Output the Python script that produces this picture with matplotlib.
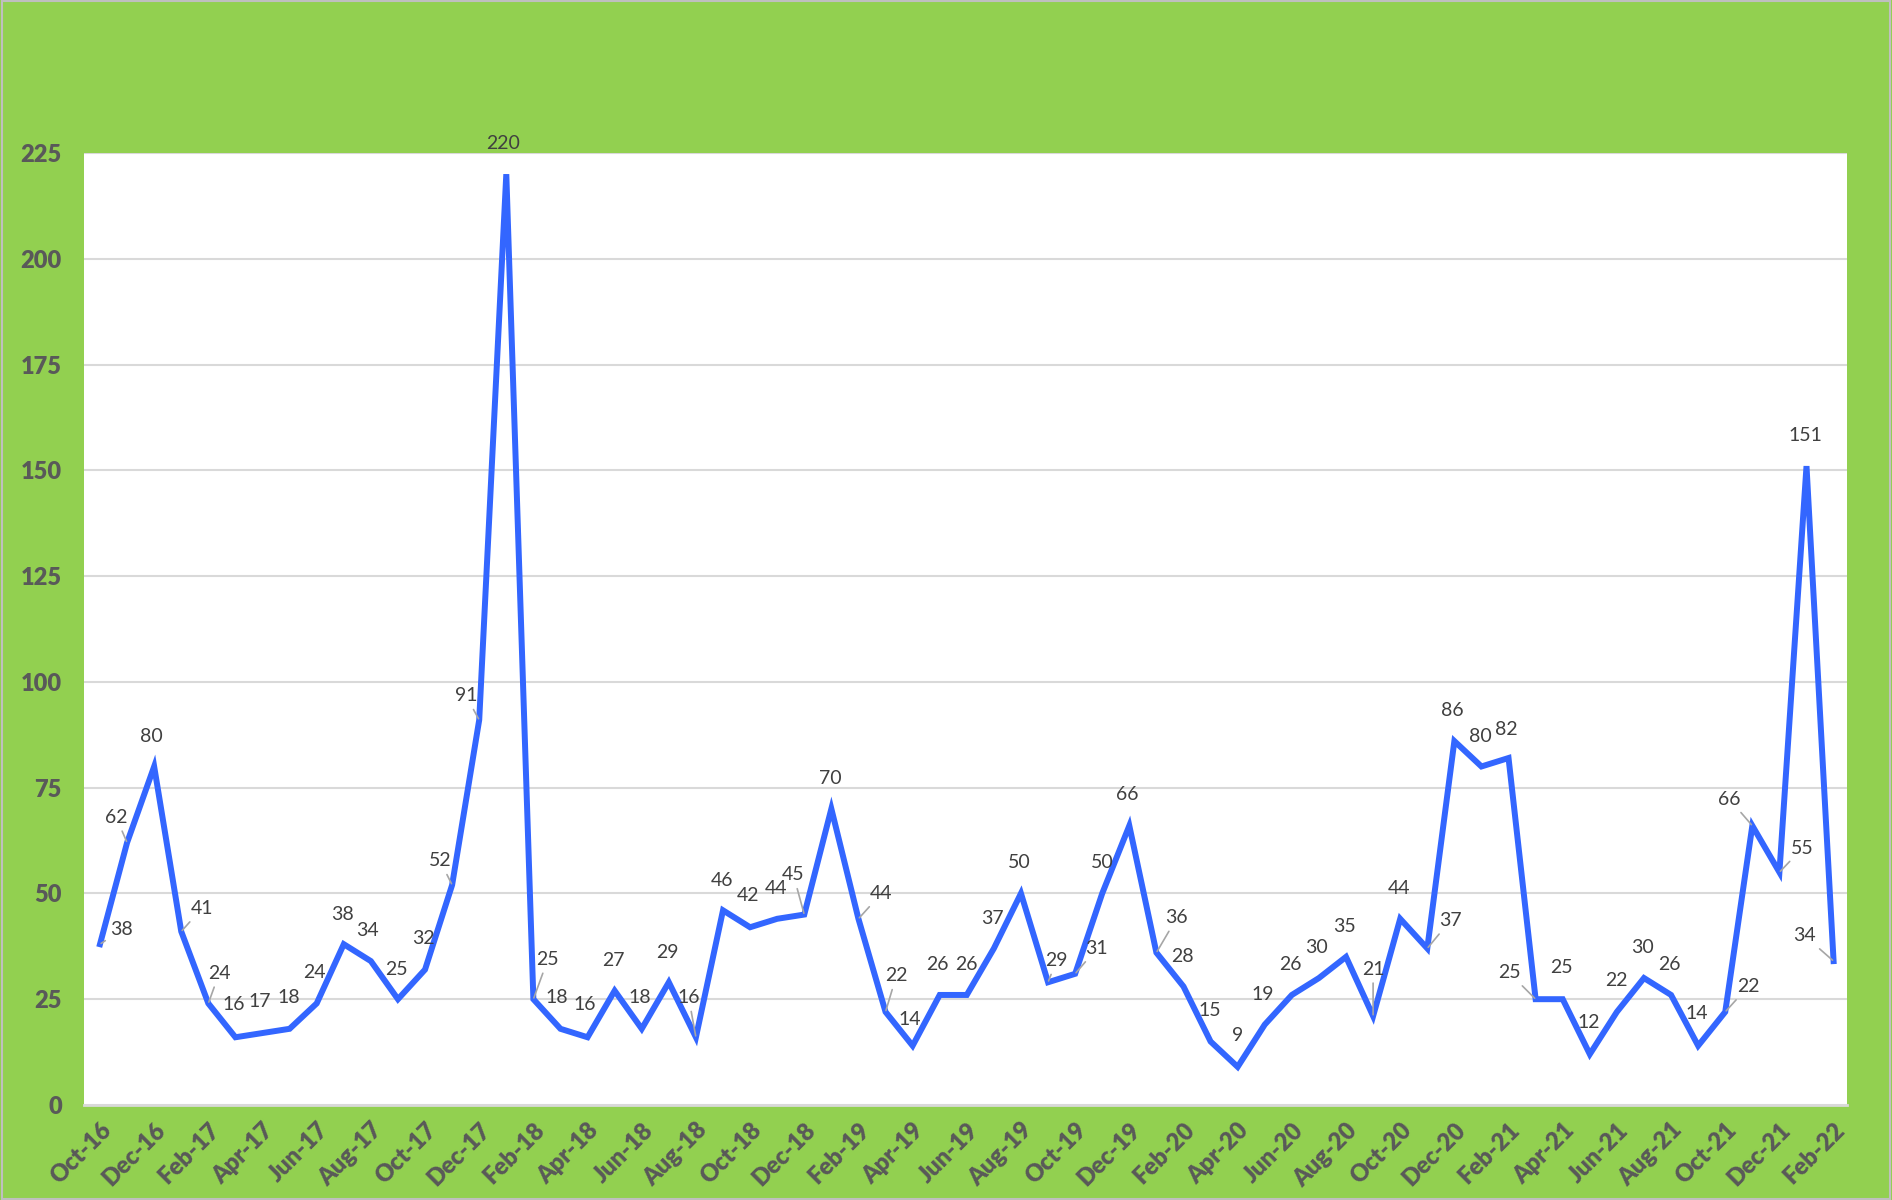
import matplotlib
matplotlib.use("Agg")
import matplotlib.pyplot as plt
from matplotlib.patches import Rectangle

months = [
    "Oct-16", "Nov-16", "Dec-16",
    "Jan-17", "Feb-17", "Mar-17", "Apr-17", "May-17", "Jun-17", "Jul-17", "Aug-17", "Sep-17", "Oct-17", "Nov-17", "Dec-17",
    "Jan-18", "Feb-18", "Mar-18", "Apr-18", "May-18", "Jun-18", "Jul-18", "Aug-18", "Sep-18", "Oct-18", "Nov-18", "Dec-18",
    "Jan-19", "Feb-19", "Mar-19", "Apr-19", "May-19", "Jun-19", "Jul-19", "Aug-19", "Sep-19", "Oct-19", "Nov-19", "Dec-19",
    "Jan-20", "Feb-20", "Mar-20", "Apr-20", "May-20", "Jun-20", "Jul-20", "Aug-20", "Sep-20", "Oct-20", "Nov-20", "Dec-20",
    "Jan-21", "Feb-21", "Mar-21", "Apr-21", "May-21", "Jun-21", "Jul-21", "Aug-21", "Sep-21", "Oct-21", "Nov-21", "Dec-21",
    "Jan-22", "Feb-22",
]

values = [
    38, 62, 80,
    41, 24, 16, 17, 18, 24, 38, 34, 25, 32, 52, 91,
    220, 25, 18, 16, 27, 18, 29, 16, 46, 42, 44, 45,
    70, 44, 22, 14, 26, 26, 37, 50, 29, 31, 50, 66,
    36, 28, 15, 9, 19, 26, 30, 35, 21, 44, 37, 86,
    80, 82, 25, 25, 12, 22, 30, 26, 14, 22, 66, 55,
    151, 34,
]

yticks = [0, 25, 50, 75, 100, 125, 150, 175, 200, 225]

# label offsets (in reference screen px, converted below) and leader-line flags
label_dx = [18, -9, -2, 17, 9, -1, -2, -1, -2, -1, -3, -1, -1, -10, -11, -3, 12, -3, -2, -1,
            -2, -1, -6, -1, -2, -1, -9, -1, 19, 9, -2, -2, 0, -1, -1, 7, 18, 0, -2, 17,
            -1, -1, 0, -2, -1, -2, -1, 0, -1, 19, -2, -1, -2, -22, -1, -1, 0, -1, -1, -1,
            19, -19, 19, -1, -24]
label_dy = [-12, -21, -25, -19, -25, -27, -26, -26, -26, -25, -25, -25, -26, -20, -20, -25, -33, -26, -27, -25,
            -26, -25, -33, -25, -26, -25, -33, -25, -21, -30, -22, -25, -25, -25, -26, -18, -21, -26, -26, -29,
            -25, -26, -26, -25, -25, -25, -25, -39, -25, -23, -25, -25, -24, -22, -26, -26, -26, -25, -25, -27,
            -21, -22, -20, -25, -21]
leaders = {0, 1, 3, 4, 13, 14, 16, 22, 26, 28, 29, 35, 36, 39, 47, 49, 53, 60, 61, 62, 64}

GREEN = "#92D050"
BLUE = "#3366FF"
TICK_COLOR = "#595959"
LABEL_COLOR = "#404040"

plt.rcParams["font.family"] = ["Lato", "DejaVu Sans"]

fig = plt.figure(figsize=(18.92, 12), dpi=100, facecolor=GREEN)
ax = fig.add_axes([0.0444, 0.0792, 0.9316, 0.7933])
ax.set_facecolor("white")

x = list(range(len(values)))
ax.plot(x, values, color=BLUE, lw=4.3, solid_joinstyle="miter", zorder=3)

k = 0.869  # reference px -> points
for i, v in enumerate(values):
    dx, dy = label_dx[i] * k, -label_dy[i] * k
    kw = dict(xy=(i, v), xytext=(dx, dy), textcoords="offset points",
              ha="center", va="center", fontsize=14, color=LABEL_COLOR, zorder=4)
    if i in leaders:
        kw["arrowprops"] = dict(arrowstyle="-", color="#A6A6A6", lw=1.2, shrinkA=2, shrinkB=1)
    ax.annotate(str(v), **kw)

ax.set_xlim(-0.59, 64.48)
ax.set_ylim(0, 225)
ax.set_yticks(yticks)
ax.set_yticklabels([str(t) for t in yticks], fontsize=17, fontweight="heavy", color=TICK_COLOR)
ax.yaxis.grid(True, color="#D9D9D9", lw=1.5, zorder=0)
ax.set_axisbelow(True)

ax.set_xticks(x[::2])
ax.set_xticklabels(months[::2], rotation=45, ha="right", va="top", rotation_mode="anchor",
                   fontsize=17, fontweight="heavy", color=TICK_COLOR)
ax.tick_params(axis="both", length=0)
ax.tick_params(axis="y", pad=16)
ax.tick_params(axis="x", pad=10)

for s in ["top", "right", "left"]:
    ax.spines[s].set_visible(False)
ax.spines["bottom"].set_color("#D9D9D9")
ax.spines["bottom"].set_linewidth(2)

fig.patches.append(Rectangle((0.001, 0.001), 0.998, 0.998, transform=fig.transFigure,
                             fill=False, edgecolor="#BFBFBF", lw=1.5))

fig.savefig("out.png", dpi=100, facecolor=GREEN)
